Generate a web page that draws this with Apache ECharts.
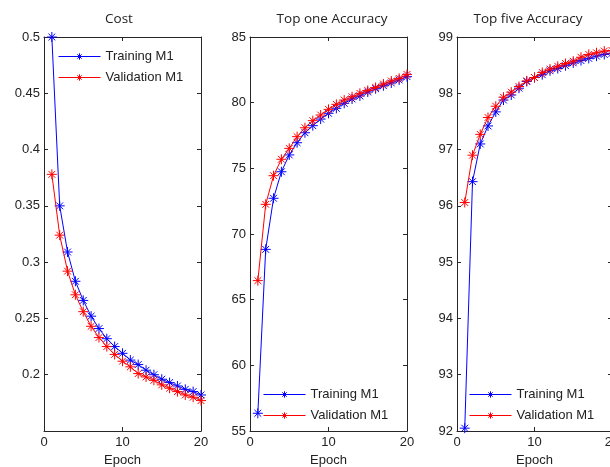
<!DOCTYPE html>
<html>
<head>
<meta charset="utf-8">
<script src="https://cdn.jsdelivr.net/npm/echarts@6/dist/echarts.min.js"></script>
<style>html,body{margin:0;padding:0;background:#fff}#c{width:610px;height:467px}</style>
</head>
<body>
<div id="c"></div>
<script>
const epochs = [1,2,3,4,5,6,7,8,9,10,11,12,13,14,15,16,17,18,19,20];
const costTrain = [0.500,0.350,0.309,0.283,0.266,0.252,0.241,0.232,0.225,0.219,0.213,0.209,0.204,0.200,0.196,0.193,0.190,0.187,0.185,0.182];
const costVal   = [0.378,0.324,0.292,0.271,0.256,0.243,0.233,0.225,0.218,0.212,0.207,0.201,0.198,0.195,0.191,0.188,0.185,0.182,0.180,0.177];
const top1Train = [56.35,68.83,72.72,74.74,76.02,76.95,77.71,78.25,78.75,79.19,79.57,79.95,80.28,80.51,80.81,81.06,81.29,81.50,81.73,81.98];
const top1Val   = [66.45,72.26,74.44,75.69,76.52,77.41,78.09,78.63,79.06,79.49,79.87,80.20,80.45,80.71,80.93,81.16,81.42,81.65,81.85,82.15];
const top5Train = [92.05,96.43,97.10,97.42,97.67,97.88,97.97,98.09,98.21,98.28,98.33,98.40,98.44,98.49,98.54,98.58,98.62,98.66,98.69,98.71];
const top5Val   = [96.06,96.90,97.27,97.57,97.77,97.93,98.02,98.12,98.22,98.28,98.37,98.43,98.48,98.53,98.57,98.64,98.69,98.72,98.75,98.76];
const titles = ['Cost','Top one Accuracy','Top five Accuracy'];
const xTicks = [0,10,20];
const yRanges = [[0.15,0.5,0.05],[55,85,5],[92,99,1]];
const seriesNames = ['Training M1','Validation M1'];

const FONT = 'Liberation Sans';
const AX = '#262626';
const BLUE = '#0000ff', RED = '#ff0000';
const STAR = 'path://M0 5 L10 5 M5 0 L5 10 M1.6 1.6 L8.4 8.4 M1.6 8.4 L8.4 1.6';

const grids = [
  {left:44, top:37, width:157, height:394, outerBoundsMode:'none', containLabel:false},
  {left:250, top:37, width:157, height:394, outerBoundsMode:'none', containLabel:false},
  {left:457, top:37, width:155, height:394, outerBoundsMode:'none', containLabel:false}
];
const titleX = [119, 332, 528];
const legendPos = [{left:58, top:50},{left:263, top:388},{left:469, top:388}];
const data = [[costTrain,costVal],[top1Train,top1Val],[top5Train,top5Val]];

const xAxis = [], yAxis = [], series = [], title = [], legend = [];
grids.forEach((g,i)=>{
  title.push({text:titles[i], left:titleX[i], top:12, textAlign:'center', padding:0,
    textStyle:{fontFamily:'Open Sans', fontSize:13.5, fontWeight:'normal', color:'#222'}});
  legend.push(Object.assign({orient:'vertical', data:seriesNames, itemWidth:42, itemHeight:8, itemGap:8, padding:0,
    lineStyle:{width:1}, itemStyle:{borderWidth:1},
    textStyle:{fontFamily:FONT, fontSize:13, color:'#222'}, selectedMode:false}, legendPos[i]));
  const xb = {type:'value', gridIndex:i, min:xTicks[0], max:xTicks[2], interval:10,
    axisLine:{show:true, onZero:false, lineStyle:{color:AX, width:1}},
    axisTick:{show:true, inside:true, length:4, lineStyle:{color:AX}},
    splitLine:{show:false}};
  xAxis.push(Object.assign({}, xb, {position:'bottom', name:'Epoch', nameLocation:'middle', nameGap:23,
    nameTextStyle:{fontFamily:FONT, fontSize:13, color:'#222'},
    axisLabel:{fontFamily:FONT, fontSize:13, color:'#222', margin:5}}));
  xAxis.push(Object.assign({}, xb, {position:'top', axisLabel:{show:false}}));
  const r = yRanges[i];
  const yb = {type:'value', gridIndex:i, min:r[0], max:r[1], interval:r[2],
    axisLine:{show:true, onZero:false, lineStyle:{color:AX, width:1}},
    axisTick:{show:true, inside:true, length:4, lineStyle:{color:AX}},
    splitLine:{show:false}};
  yAxis.push(Object.assign({}, yb, {position:'left',
    axisLabel:{fontFamily:FONT, fontSize:13, color:'#222', margin:4, showMinLabel: i===0 ? false : true,
      formatter: v => String(Math.round(v*1000)/1000)}}));
  yAxis.push(Object.assign({}, yb, {position:'right', axisLabel:{show:false}}));
  [0,1].forEach(k=>{
    const col = k===0 ? BLUE : RED;
    series.push({type:'line', name:seriesNames[k], xAxisIndex:2*i, yAxisIndex:2*i,
      data: epochs.map((e,j)=>[e, data[i][k][j]]),
      symbol:STAR, symbolSize:10, showSymbol:true,
      lineStyle:{color:col, width:1},
      itemStyle:{color:'none', borderColor:col, borderWidth:1},
      z: k===0 ? 2 : 3,
      animation:false});
  });
});

const chart = echarts.init(document.getElementById('c'), null, {renderer:'canvas'});
chart.setOption({animation:false, backgroundColor:'#fff', title, legend, grid:grids, xAxis, yAxis, series});
</script>
</body>
</html>
